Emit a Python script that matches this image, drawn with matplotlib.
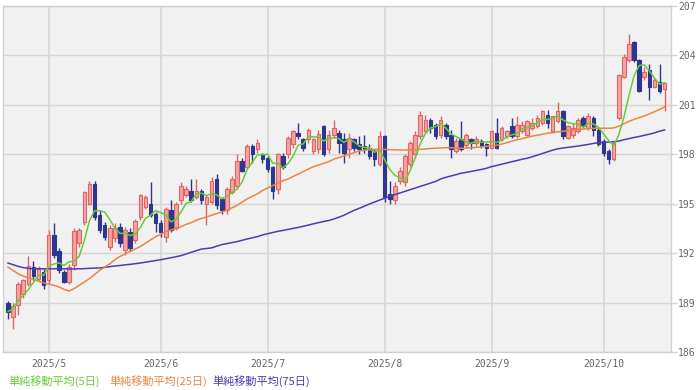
import numpy as np
import pandas as pd
import matplotlib
matplotlib.use("Agg")
import matplotlib.pyplot as plt

# trading days shown on the chart (weekdays)
dates = pd.bdate_range("2025-04-21", "2025-10-17")

# daily candles
opens = [
    189.0, 188.15, 188.85, 189.5, 190.15, 191.15, 190.45, 190.85, 190.4, 193.1,
    192.15, 190.85, 190.25, 191.3, 192.6, 193.9, 195.0, 196.2, 194.3, 193.7,
    192.4, 192.9, 193.6, 192.2, 193.3, 192.8, 194.2, 194.8, 195.0, 194.4,
    193.8, 193.0, 194.6, 193.5, 195.2, 195.5, 195.8, 195.4, 195.8, 195.0,
    195.1, 196.5, 195.3, 194.6, 195.7, 196.1, 197.6, 197.2, 198.5, 198.3,
    198.0, 197.8, 197.2, 195.9, 197.9, 198.0, 198.6, 199.3, 198.9, 198.9,
    198.2, 198.3, 199.7, 198.3, 199.2, 199.3, 198.9, 198.3, 198.9, 198.6,
    198.5, 198.4, 198.2, 197.4, 199.1, 195.6, 195.2, 196.4, 196.3, 197.4,
    198.0, 199.1, 199.4, 200.1, 199.8, 199.2, 199.8, 199.2, 198.2, 198.9,
    198.55, 198.9, 198.7, 198.8, 198.6, 198.4, 199.3, 198.9, 199.1, 199.7,
    199.1, 199.4, 199.2, 199.6, 199.7, 199.9, 200.4, 199.4, 200.0, 200.6,
    199.0, 199.2, 199.4, 200.2, 199.6, 200.2, 199.5, 198.8, 198.2, 197.7,
    200.2, 202.7, 203.7, 204.8, 203.7, 202.7, 203.1, 202.1, 202.4, 201.95,
]
highs = [
    189.1, 188.95, 190.25, 190.45, 191.8, 191.55, 191.2, 191.05, 193.4, 193.8,
    192.3, 191.0, 191.35, 193.5, 193.5, 195.8, 196.4, 196.4, 194.6, 193.9,
    193.7, 193.8, 193.8, 193.6, 193.5, 194.1, 195.6, 195.5, 196.3, 194.5,
    194.0, 194.8, 195.2, 195.1, 196.3, 196.1, 196.5, 196.5, 195.9, 195.5,
    196.6, 196.8, 195.4, 196.0, 196.7, 198.0, 197.8, 198.6, 198.6, 198.9,
    198.1, 197.9, 197.3, 198.1, 198.1, 199.1, 199.5, 199.9, 199.0, 199.6,
    199.0, 199.5, 199.8, 199.45, 200.1, 199.5, 199.3, 199.3, 199.0, 199.1,
    199.2, 198.6, 198.3, 199.4, 199.2, 196.4, 196.3, 197.2, 198.0, 198.8,
    199.4, 200.6, 200.4, 200.2, 199.9, 200.3, 199.9, 199.5, 199.0, 200.0,
    199.3, 199.0, 199.1, 198.9, 198.7, 199.5, 200.2, 199.7, 199.5, 200.2,
    200.3, 200.0, 200.1, 200.2, 200.4, 200.7, 200.7, 200.3, 201.2, 200.7,
    199.8, 199.9, 200.2, 200.3, 200.5, 200.3, 199.6, 198.9, 198.3, 198.8,
    202.9, 204.1, 205.3, 204.9, 203.8, 203.3, 203.5, 202.6, 203.5, 202.35,
]
lows = [
    188.0, 187.4, 188.25, 189.3, 190.0, 190.35, 190.3, 189.85, 190.1, 191.7,
    190.8, 190.2, 190.1, 191.0, 192.4, 193.7, 194.9, 194.0, 193.2, 192.8,
    192.2, 192.7, 192.4, 191.9, 192.1, 192.6, 194.0, 194.7, 194.2, 193.3,
    193.0, 192.7, 193.3, 193.4, 195.0, 195.4, 195.1, 195.3, 195.0, 193.7,
    195.0, 194.7, 194.4, 194.4, 195.6, 195.9, 196.9, 197.1, 197.5, 198.1,
    197.5, 196.9, 195.3, 195.6, 197.1, 197.8, 198.4, 198.9, 198.2, 198.7,
    198.0, 198.1, 197.9, 198.1, 199.0, 198.1, 197.5, 197.8, 198.2, 198.0,
    198.1, 197.7, 197.3, 197.3, 195.1, 195.0, 195.0, 196.2, 196.1, 197.2,
    197.8, 198.9, 199.3, 199.3, 198.9, 199.0, 198.9, 197.8, 198.1, 198.2,
    198.4, 198.3, 198.5, 198.4, 197.9, 198.3, 198.3, 198.8, 199.0, 199.0,
    199.0, 199.3, 199.1, 199.5, 199.6, 199.8, 199.6, 199.3, 199.9, 198.9,
    198.9, 199.0, 199.3, 199.6, 199.5, 199.1, 198.5, 197.9, 197.4, 197.6,
    200.1, 202.6, 203.6, 203.6, 201.8, 202.5, 201.3, 202.0, 201.7, 200.6,
]
closes = [
    188.45, 188.8, 190.15, 190.35, 191.2, 190.6, 191.05, 190.05, 193.1, 191.9,
    190.95, 190.25, 191.15, 193.35, 193.4, 195.7, 196.2, 194.2, 193.4, 192.95,
    193.5, 193.55, 192.6, 193.4, 192.3, 193.95, 195.5, 195.4, 194.3, 193.8,
    193.3, 194.7, 193.4, 195.0, 196.1, 195.9, 195.2, 195.8, 195.2, 195.4,
    196.4, 194.9, 194.6, 195.9, 196.5, 197.6, 197.0, 198.5, 198.0, 198.7,
    197.7, 197.1, 195.8, 198.0, 197.25, 199.0, 199.4, 199.1, 198.4, 199.45,
    198.95, 199.25, 198.0, 199.2, 199.6, 198.7, 198.1, 199.0, 198.4, 198.3,
    198.3, 197.9, 197.7, 199.1, 195.4, 195.3, 196.1, 197.0, 197.9, 198.7,
    199.2, 200.4, 200.1, 199.6, 199.1, 200.1, 199.1, 198.3, 198.8, 198.35,
    199.2, 198.7, 198.9, 198.5, 198.4, 199.4, 198.4, 199.6, 199.4, 199.1,
    199.8, 199.8, 200.0, 199.9, 200.2, 200.6, 199.9, 200.3, 200.6, 199.1,
    199.7, 199.6, 200.1, 199.7, 200.3, 199.5, 198.6, 198.1, 197.7, 198.7,
    202.8, 203.9, 204.7, 203.7, 201.85, 203.0, 202.1, 202.5, 201.85, 202.3,
]

# 25-day and 75-day moving averages
ma25 = [
    191.15, 190.95, 190.75, 190.6, 190.5, 190.4, 190.3, 190.2, 190.12, 190.05,
    189.95, 189.8, 189.7, 189.85, 190.05, 190.25, 190.45, 190.7, 190.95, 191.15,
    191.35, 191.6, 191.8, 191.95, 192.1, 192.25, 192.4, 192.6, 192.8, 193.0,
    193.15, 193.3, 193.4, 193.5, 193.6, 193.75, 193.85, 194.0, 194.1, 194.2,
    194.3, 194.4, 194.5, 194.6, 194.75, 194.9, 195.1, 195.3, 195.45, 195.6,
    195.8, 195.95, 196.1, 196.25, 196.4, 196.5, 196.65, 196.8, 196.95, 197.1,
    197.25, 197.35, 197.45, 197.55, 197.7, 197.8, 197.9, 198.0, 198.1, 198.2,
    198.25, 198.28, 198.3, 198.3, 198.3, 198.28, 198.27, 198.26, 198.26, 198.26,
    198.27, 198.3, 198.32, 198.35, 198.37, 198.38, 198.4, 198.4, 198.38, 198.36,
    198.38, 198.4, 198.42, 198.45, 198.48, 198.5, 198.55, 198.62, 198.7, 198.8,
    198.88, 198.95, 199.03, 199.1, 199.15, 199.22, 199.28, 199.32, 199.36, 199.4,
    199.43, 199.47, 199.5, 199.53, 199.56, 199.58, 199.58, 199.58, 199.58, 199.6,
    199.7, 199.85, 200.0, 200.12, 200.22, 200.33, 200.45, 200.58, 200.72, 200.88,
]
ma75 = [
    191.4, 191.3, 191.2, 191.12, 191.08, 191.05, 191.05, 191.05, 191.05, 191.05,
    191.05, 191.05, 191.04, 191.04, 191.05, 191.06, 191.08, 191.09, 191.1, 191.14,
    191.18, 191.22, 191.25, 191.29, 191.32, 191.36, 191.4, 191.45, 191.5, 191.55,
    191.6, 191.66, 191.72, 191.78, 191.85, 191.95, 192.05, 192.15, 192.25, 192.28,
    192.32, 192.42, 192.52, 192.58, 192.64, 192.7, 192.78, 192.86, 192.93, 193.0,
    193.1, 193.18, 193.25, 193.32, 193.38, 193.44, 193.5, 193.56, 193.63, 193.7,
    193.78, 193.85, 193.92, 193.98, 194.07, 194.18, 194.3, 194.45, 194.6, 194.72,
    194.85, 194.98, 195.1, 195.22, 195.33, 195.45, 195.55, 195.65, 195.75, 195.85,
    195.95, 196.05, 196.15, 196.25, 196.35, 196.5, 196.6, 196.68, 196.76, 196.85,
    196.9, 196.96, 197.02, 197.08, 197.15, 197.25, 197.32, 197.4, 197.47, 197.55,
    197.62, 197.7, 197.76, 197.85, 197.95, 198.05, 198.15, 198.25, 198.33, 198.38,
    198.42, 198.46, 198.5, 198.55, 198.6, 198.66, 198.7, 198.72, 198.74, 198.76,
    198.8, 198.88, 198.95, 199.02, 199.08, 199.15, 199.22, 199.3, 199.4, 199.48,
]

y_ticks = [186, 189, 192, 195, 198, 201, 204, 207]
legend_labels = ["単純移動平均(5日)", "単純移動平均(25日)", "単純移動平均(75日)"]

UP_FILL, UP_EDGE = "#f4a3a3", "#e06464"
DOWN_FILL = "#2d3790"
MA_COLORS = ["#63cf34", "#ea8540", "#4a3db0"]
GRID = "#d6d6d6"

df = pd.DataFrame({"open": opens, "high": highs, "low": lows, "close": closes},
                  index=dates)
# 5-day average is computed from the closes, like the chart does
df["ma5"] = df["close"].rolling(5, min_periods=1).mean()
df["ma25"] = ma25
df["ma75"] = ma75

x = np.arange(len(df))
up = df["close"] >= df["open"]

fig = plt.figure(figsize=(7, 3.9), dpi=100)
ax = fig.add_axes([3 / 700, 38 / 390, 667.7 / 700, 346 / 390])
ax.set_facecolor("#f1f1f1")

# grid: every 3 yen, first trading day of each month
month_starts = [i for i in range(1, len(df)) if dates[i].month != dates[i - 1].month]
for yv in y_ticks:
    ax.axhline(yv, color=GRID, lw=1, zorder=0)
for i in month_starts:
    ax.axvline(i, color=GRID, lw=1.2, zorder=0)

# wicks
ax.vlines(x[up], df["low"][up], df["high"][up], color=UP_EDGE, lw=1, zorder=2)
ax.vlines(x[~up], df["low"][~up], df["high"][~up], color=DOWN_FILL, lw=1, zorder=2)

# bodies
body_lo = np.minimum(df["open"], df["close"])
body_h = np.maximum(np.abs(df["close"] - df["open"]), 0.04)
ax.bar(x[up], body_h[up], bottom=body_lo[up], width=0.7,
       color=UP_FILL, edgecolor=UP_EDGE, linewidth=0.8, zorder=3)
ax.bar(x[~up], body_h[~up], bottom=body_lo[~up], width=0.7,
       color=DOWN_FILL, edgecolor=DOWN_FILL, linewidth=0.8, zorder=3)

# moving averages
ax.plot(x, df["ma75"], color=MA_COLORS[2], lw=1.1, zorder=4)
ax.plot(x, df["ma25"], color=MA_COLORS[1], lw=1.1, zorder=4)
ax.plot(x, df["ma5"], color=MA_COLORS[0], lw=1.1, zorder=4)

ax.set_xlim(-0.98, 130.2)
ax.set_ylim(186, 207)

ax.yaxis.tick_right()
ax.set_yticks(y_ticks)
ax.set_yticklabels([str(v) for v in y_ticks])
ax.tick_params(axis="y", length=4, width=1, color=GRID, pad=1.5,
               labelsize=7, labelcolor="#666666")
ax.set_xticks(month_starts)
ax.set_xticklabels([f"{dates[i].year}/{dates[i].month}" for i in month_starts])
ax.tick_params(axis="x", length=0, pad=5, labelsize=7, labelcolor="#666666")
for lab in ax.get_xticklabels() + ax.get_yticklabels():
    lab.set_family("DejaVu Sans Mono")

for sp in ax.spines.values():
    sp.set_color("#d0d0d0")
    sp.set_linewidth(1)

# legend as coloured text along the bottom
for xpos, label, col in zip([8, 109, 212], legend_labels, MA_COLORS):
    fig.text(xpos / 700, 9 / 390, label, color=col, fontsize=8,
             family=["Noto Sans CJK JP", "DejaVu Sans"], va="center", ha="left")

fig.savefig("out.png", dpi=100, facecolor="white")
